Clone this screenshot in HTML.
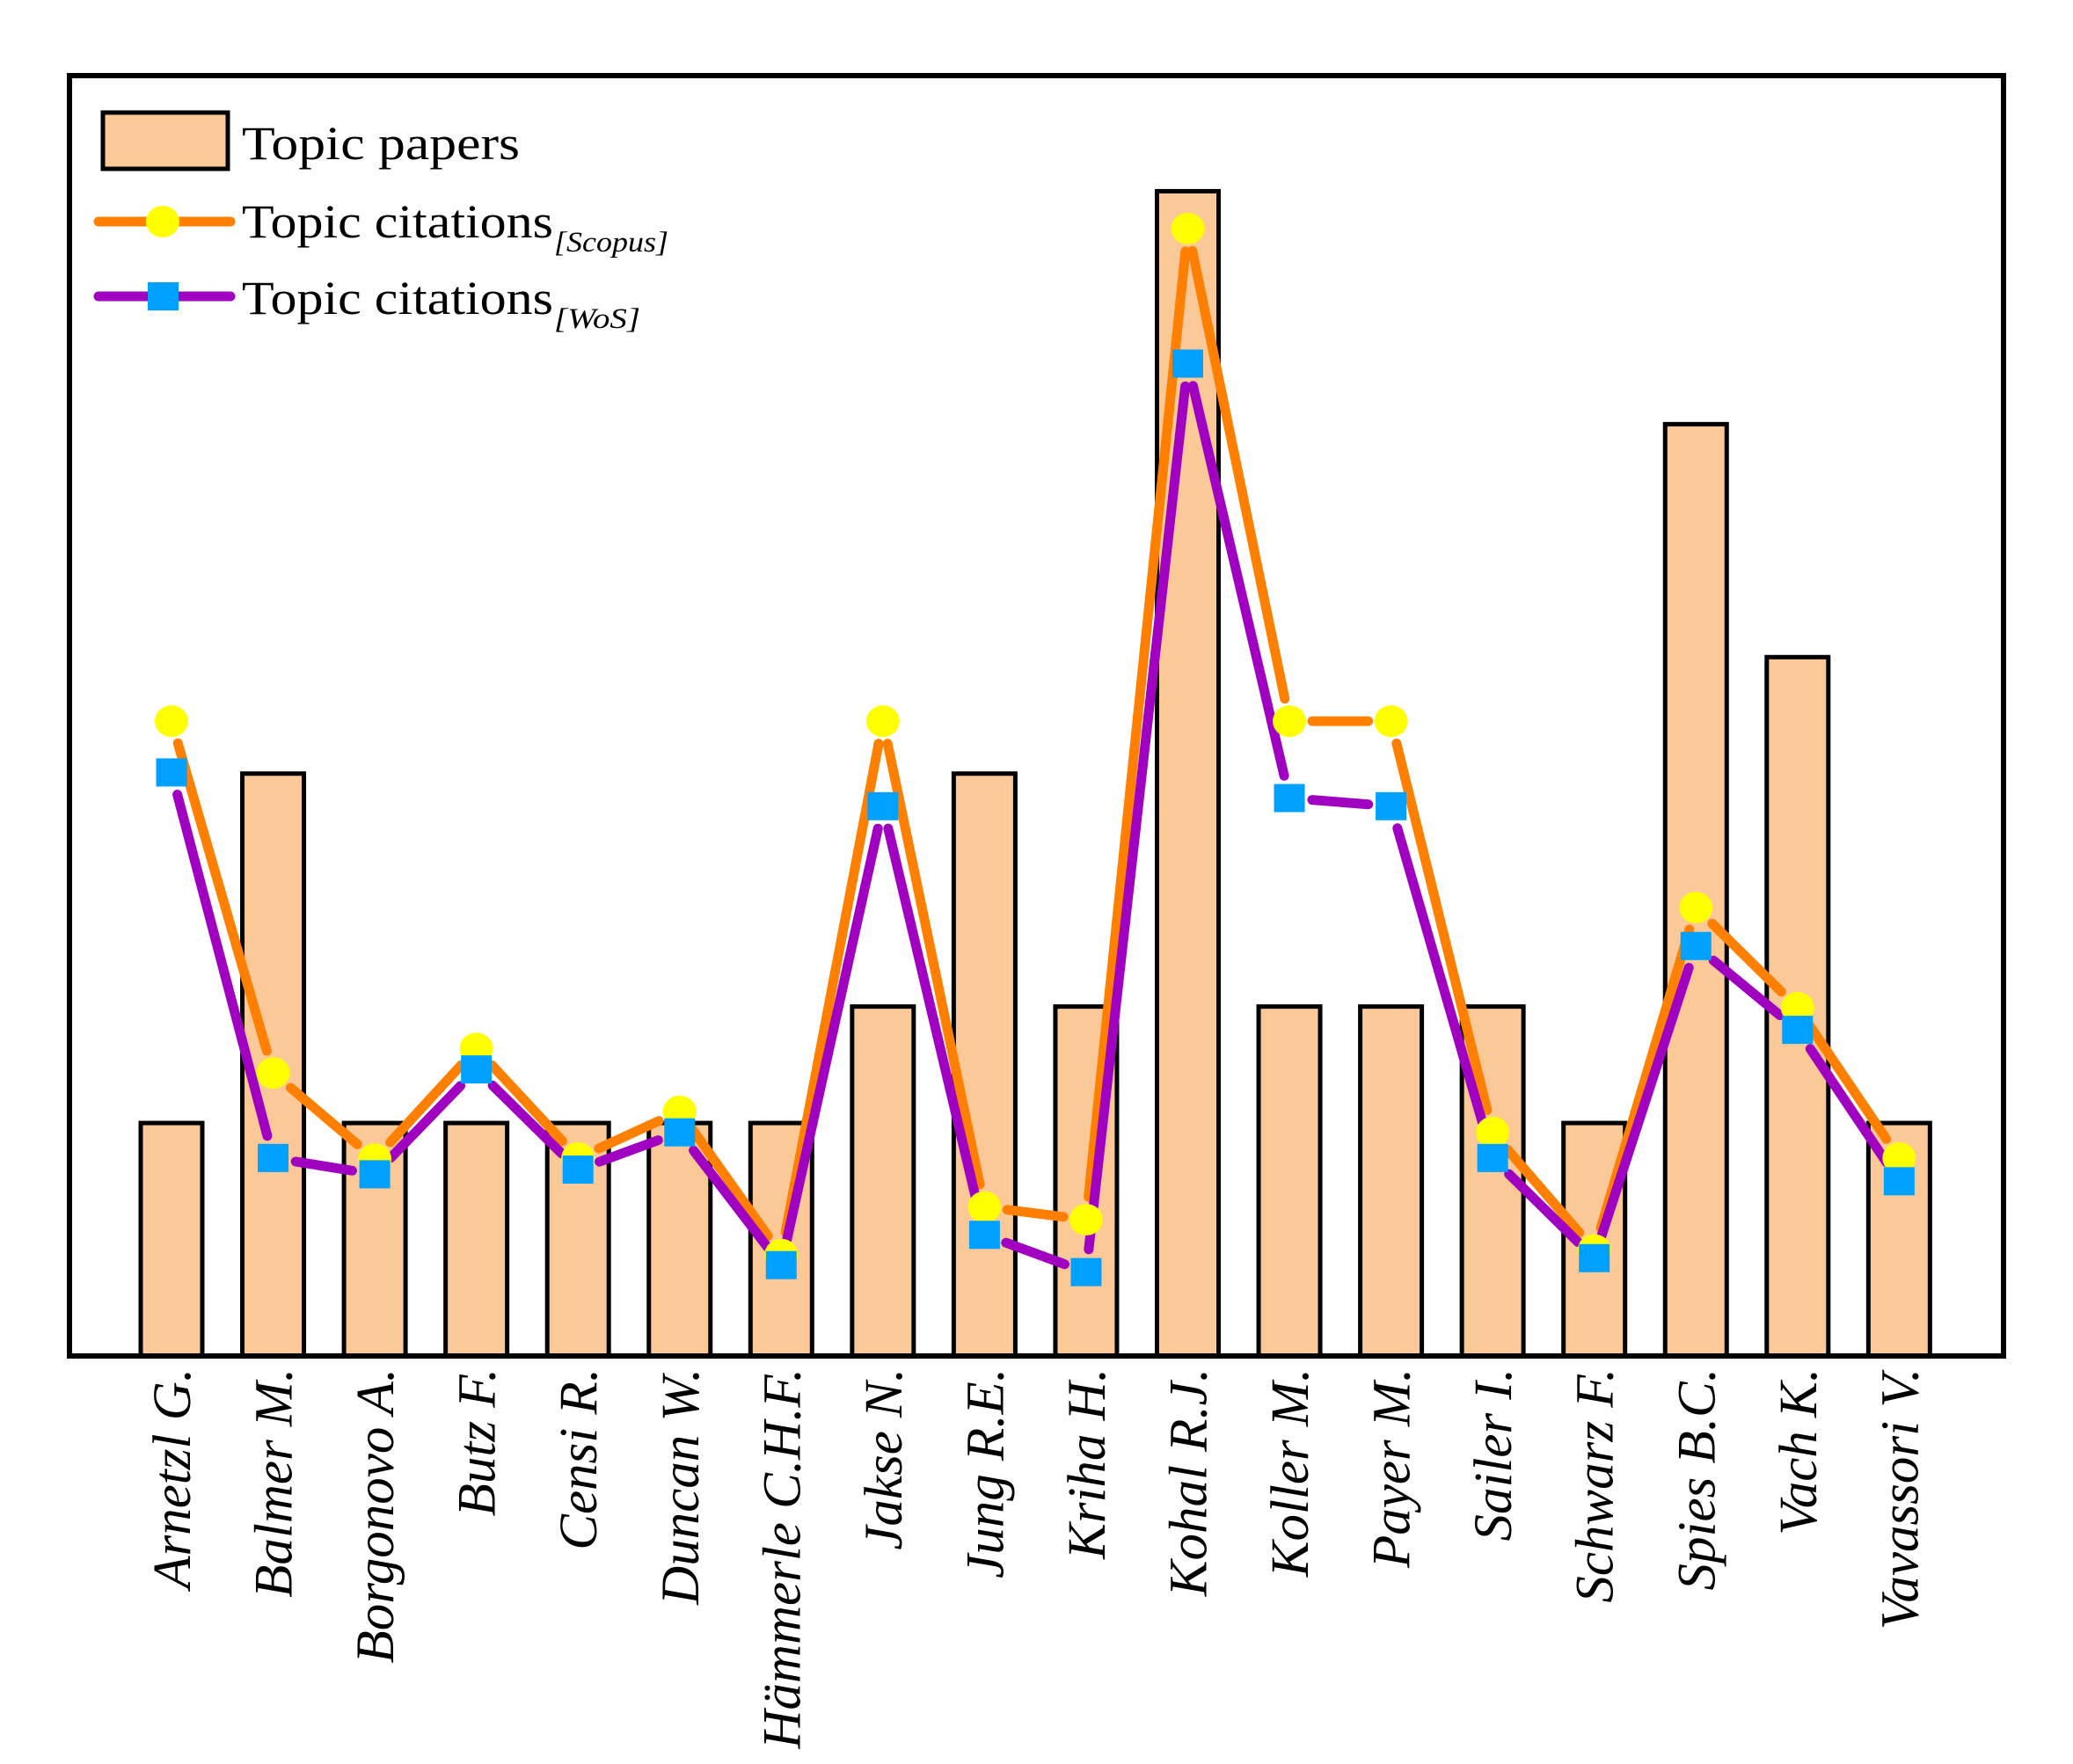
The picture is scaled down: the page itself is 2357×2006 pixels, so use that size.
<!DOCTYPE html>
<html><head><meta charset="utf-8"><style>
html,body{margin:0;padding:0;background:#fff;}
svg{display:block;font-family:"Liberation Serif",serif;}
</style></head><body>
<svg id="chart" width="2357" height="2006" viewBox="0 0 2357 2006" xmlns="http://www.w3.org/2000/svg">
<rect x="0" y="0" width="2357" height="2006" fill="#fff"/>
<g id="bars"></g>
<g id="lines"></g>
<g id="labels"></g>
<rect x="79" y="86" width="2199" height="1456" fill="none" stroke="#000" stroke-width="6"/>
<g>
  <rect x="117" y="128" width="142" height="64" fill="#fbc898" stroke="#000" stroke-width="5"/>
  <text x="275" y="181" font-size="54" textLength="316" lengthAdjust="spacingAndGlyphs">Topic papers</text>
  <line x1="112" y1="252" x2="262" y2="252" stroke="#ff8000" stroke-width="11" stroke-linecap="round"/>
  <ellipse cx="185" cy="252" rx="19" ry="18" fill="#ffff00"/>
  <text x="275" y="270" font-size="54" textLength="354" lengthAdjust="spacingAndGlyphs">Topic citations</text>
  <text x="630" y="286" font-size="33" font-style="italic" textLength="130" lengthAdjust="spacingAndGlyphs">[Scopus]</text>
  <line x1="112" y1="337" x2="262" y2="337" stroke="#a000c0" stroke-width="11" stroke-linecap="round"/>
  <rect x="168" y="321" width="35" height="32" fill="#00a0ff"/>
  <text x="275" y="357" font-size="54" textLength="354" lengthAdjust="spacingAndGlyphs">Topic citations</text>
  <text x="630" y="373" font-size="33" font-style="italic" textLength="98" lengthAdjust="spacingAndGlyphs">[WoS]</text>
</g>
</svg>
<script>
const categories = ["Arnetzl G.","Balmer M.","Borgonovo A.","Butz F.","Censi R.","Duncan W.","Hämmerle C.H.F.","Jakse N.","Jung R.E.","Kriha H.","Kohal R.J.","Koller M.","Payer M.","Sailer I.","Schwarz F.","Spies B.C.","Vach K.","Vavassori V."];
const papers = [2,5,2,2,2,2,2,3,5,3,10,3,3,3,2,8,6,2];
const scopus = [54.5,24.3,16.9,26.4,17.0,21.0,8.7,54.5,12.8,11.7,96.8,54.5,54.5,19.2,9.1,38.5,29.9,17.0];
const wos = [50.1,17.0,15.6,24.6,16.0,19.2,7.8,47.2,10.4,7.2,85.2,47.9,47.2,17.0,8.4,35.2,28.0,15.0];
const papersMax = 11;
const citesMax = 110;

const NS = "http://www.w3.org/2000/svg";
const x0 = 195, step = 115.55, yBase = 1542, yTop = 85;
function xPos(i){ return x0 + i*step; }
function yPapers(v){ return yBase - v/papersMax*(yBase-yTop); }
function yCites(v){ return yBase - v/citesMax*(yBase-yTop); }
function mk(tag, attrs, parent){
  const el = document.createElementNS(NS, tag);
  for (const k in attrs) el.setAttribute(k, attrs[k]);
  parent.appendChild(el);
  return el;
}
const gB = document.getElementById('bars');
const gL = document.getElementById('lines');
const gT = document.getElementById('labels');
const bw = 70;
papers.forEach((v,i)=>{
  const y = yPapers(v);
  const r = mk('rect',{x:xPos(i)-bw/2,y:y,width:bw,height:yBase-y,fill:'#fbc898',stroke:'#000','stroke-width':5},gB);
  
  
});
function drawSeries(vals, color){
  const gap = 26;
  for (let i=0;i<vals.length-1;i++){
    const ax=xPos(i), ay=yCites(vals[i]), bx=xPos(i+1), by=yCites(vals[i+1]);
    const dx=bx-ax, dy=by-ay, L=Math.hypot(dx,dy);
    if (L<=2*gap) continue;
    const ux=dx/L, uy=dy/L;
    const ln = mk('line',{x1:ax+ux*gap,y1:ay+uy*gap,x2:bx-ux*gap,y2:by-uy*gap,stroke:color,'stroke-width':11,'stroke-linecap':'round'},gL);
    
    
  }
}
function drawMarkers(){
  scopus.forEach((v,i)=>{
    const c = mk('ellipse',{cx:xPos(i),cy:yCites(v),rx:19,ry:18,fill:'#ffff00'},gL);
    
    
  });
  wos.forEach((v,i)=>{
    const s = mk('rect',{x:xPos(i)-17.5,y:yCites(v)-16,width:35,height:32,fill:'#00a0ff'},gL);
    
    
  });
}
drawSeries(scopus,'#ff8000');
drawSeries(wos,'#a000c0');
drawMarkers();
categories.forEach((c,i)=>{
  const tx = xPos(i)+21, ty = 1556;
  const t = mk('text',{x:tx,y:ty,'font-size':61,'font-style':'italic','text-anchor':'end',transform:`rotate(-90 ${tx} ${ty})`},gT);
  
  
  t.textContent = c;
});
</script>
</body></html>
